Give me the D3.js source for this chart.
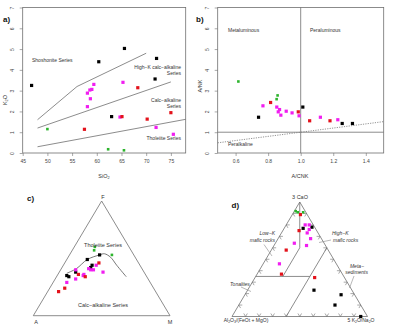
<!DOCTYPE html>
<html>
<head>
<meta charset="utf-8">
<script src="https://cdn.jsdelivr.net/npm/d3@7"></script>
<style>
  body { margin: 0; background: #fff; }
  svg { display: block; font-family: "Liberation Sans", Arial, sans-serif; }
</style>
</head>
<body>
<script>
// ---- data ----
// a) SiO2 vs K2O  [SiO2, K2O]
var harkerBlack   = [[46.8,3.25],[60.4,4.39],[65.6,5.03],[72.1,4.55],[71.8,3.56],[63.0,1.75]];
var harkerMagenta = [[59.4,3.3],[59.0,3.06],[58.6,3.03],[58.1,2.88],[58.7,2.61],[58.1,2.23],[65.3,3.4],[64.7,1.73],[72.0,1.23],[75.5,0.9]];
var harkerRed     = [[68.3,3.14],[65.1,1.75],[70.2,1.63],[75.0,1.94],[57.5,1.14]];
var harkerGreen   = [[50.0,1.15],[62.3,0.18],[65.5,0.13]];
var shoshoniteLine = [[48,1.6],[56,3.2],[70,4.8]];
var highKLine      = [[48,1.2],[75,3.42]];
var tholeiiteLine  = [[48,0.3],[78,1.62]];

// b) A/CNK vs A/NK
var shandBlack   = [[0.741,1.72],[1.013,2.21],[1.255,1.42],[1.318,1.42]];
var shandMagenta = [[0.768,2.27],[0.853,2.21],[0.87,2.09],[0.862,1.98],[0.878,1.82],[0.911,2.01],[0.947,1.93],[0.99,1.79],[1.121,1.72],[1.228,1.6]];
var shandRed     = [[0.815,2.43],[0.985,1.98],[1.055,1.55],[1.18,1.55]];
var shandGreen   = [[0.617,3.44],[0.858,2.77],[0.852,2.59]];

// c) AFM  [A, F, M]
var afmBlack   = [[25,53,22],[36,49,15],[35,44,21],[37,42,21],[50,38,12],[58,35,7],[57,34,9]];
var afmMagenta = [[32,44,24],[39,41,20],[38,40,22],[36,40,24],[49,40,11],[45,36,19],[46,35,19],[53,32,15],[61,29,10],[30,38,32]];
var afmRed     = [[29,46,25],[49,36,15],[45,34,21],[65,24,11],[71,21,8]];
var afmGreen   = [[25,60,15],[27,57,16],[16,53,31]];
var afmCurve   = [[57,37,6],[48,41,11],[36,49,15],[25,53,22],[21,54,25],[18,51,31],[17,44,39],[15,34,51]];

// d) [Al2O3/(FeOt+MgO), 3CaO, 5K2O/Na2O]
var lauBlack   = [[9,77,14],[2,78,20],[28,23,49],[10,19,71],[19,10,71],[5,0,95]];
var lauMagenta = [[6,80,14],[3,80,17],[5,76,19],[8,73,19],[8,68,24],[14,62,24],[22,64,14],[42,46,12]];
var lauRed     = [[5,89,6],[13,75,12],[31,58,11],[45,37,18],[22,34,44]];
var lauGreen   = [[7,92,1],[6,91,3],[2,91,7]];
var lauFields  = [
  [[0,100,0],[20,60,20]],
  [[20,60,20],[45,35,20]],
  [[65,35,0],[25,35,40]],
  [[0,60,40],[60,0,40]]
];

var colours = {black:"#000000", magenta:"#f01ef0", red:"#e3121b", green:"#2db42d"};
var grey = "#6f6f6f";

var svg = d3.select("body").append("svg").attr("width", 393).attr("height", 331);

function sq(g, pts, fx, fy, colour, s) {
  s = s || 3.2;
  g.selectAll(null).data(pts).enter().append("rect")
    .attr("x", d => fx(d) - s/2).attr("y", d => fy(d) - s/2)
    .attr("width", s).attr("height", s).attr("fill", colour);
}

function label(x, y, txt, size, anchor, extra) {
  var t = svg.append("text").attr("x", x).attr("y", y)
    .attr("font-size", size).attr("text-anchor", anchor || "start")
    .attr("fill", "#333").text(txt);
  if (extra) extra(t);
  return t;
}

// text with subscripts, parts: [string, isSub]
function rich(parent, parts, size) {
  var t = parent.append("text").attr("font-size", size).attr("fill", "#333");
  var shifted = false;
  parts.forEach(function(p) {
    var ts = t.append("tspan").text(p[0]);
    if (p[1]) { ts.attr("font-size", size*0.7).attr("dy", size*0.28); shifted = true; }
    else if (shifted) { ts.attr("dy", -size*0.28); shifted = false; }
  });
  return t;
}

function frame(x, y, title) {
  svg.append("text").attr("x", x).attr("y", y).attr("font-size", 8)
    .attr("font-weight", "bold").attr("fill", "#111").text(title);
}

function axes(xs, ys, xticks, xfmt) {
  var g = svg.append("g");
  var xa = g.append("g").attr("transform", `translate(0,${ys.range()[0]})`)
    .call(d3.axisBottom(xs).tickValues(xticks).tickFormat(xfmt).tickSize(3).tickSizeOuter(0));
  var ya = g.append("g").attr("transform", `translate(${xs.range()[0]},0)`)
    .call(d3.axisLeft(ys).ticks(7).tickFormat(d3.format("d")).tickSize(3).tickSizeOuter(0));
  [xa, ya].forEach(a => {
    a.select(".domain").remove();
    a.selectAll("line").attr("stroke", grey).attr("stroke-width", 0.6);
    a.selectAll("text").attr("font-size", 5).attr("fill", "#444").attr("font-family", null);
  });
  xa.selectAll("text").attr("y", 6.5);
  ya.selectAll("text").attr("x", null).attr("dy", null)
    .attr("text-anchor", "middle").attr("transform", "translate(-9,0) rotate(-90)");
  g.append("rect").attr("x", xs.range()[0]).attr("y", ys.range()[1])
    .attr("width", xs.range()[1] - xs.range()[0]).attr("height", ys.range()[0] - ys.range()[1])
    .attr("fill", "none").attr("stroke", grey).attr("stroke-width", 0.8);
}

// ---------- a) ----------
var ax = d3.scaleLinear().domain([45, 78]).range([22.7, 185.7]);
var ay = d3.scaleLinear().domain([0, 7]).range([153, 7.5]);
axes(ax, ay, d3.range(45, 80, 5), d3.format("d"));
var line = d3.line().x(d => ax(d[0])).y(d => ay(d[1]));
[shoshoniteLine, highKLine, tholeiiteLine].forEach(l =>
  svg.append("path").attr("d", line(l)).attr("fill", "none").attr("stroke", grey).attr("stroke-width", 0.8));
var ga = svg.append("g");
sq(ga, harkerBlack, d => ax(d[0]), d => ay(d[1]), colours.black);
sq(ga, harkerMagenta, d => ax(d[0]), d => ay(d[1]), colours.magenta);
sq(ga, harkerRed, d => ax(d[0]), d => ay(d[1]), colours.red);
sq(ga, harkerGreen, d => ax(d[0]), d => ay(d[1]), colours.green, 2.6);
label(32, 62, "Shoshonite Series", 5);
label(181, 69, "High\u2212K calc\u2212alkaline", 5, "end");
label(181, 75, "Series", 5, "end");
label(181, 102, "Calc\u2212alkaline", 5, "end");
label(181, 108, "Series", 5, "end");
label(181, 140, "Tholeiite Series", 5, "end");
frame(3, 21.5, "a)");
rich(svg.append("g").attr("transform", "translate(104,177.5)"), [["SiO"],["2",1]], 5.5).attr("text-anchor", "middle");
rich(svg.append("g").attr("transform", "translate(6.5,100) rotate(-90)"), [["K"],["2",1],["O"]], 5.5).attr("text-anchor", "middle");

// ---------- b) ----------
var bx = d3.scaleLinear().domain([0.49, 1.51]).range([217.7, 383.7]);
var by = d3.scaleLinear().domain([0, 7]).range([153, 7.5]);
axes(bx, by, [0.6, 0.8, 1.0, 1.2, 1.4], d3.format(".1f"));
svg.append("line").attr("x1", bx(1)).attr("x2", bx(1)).attr("y1", by(0)).attr("y2", by(7))
  .attr("stroke", grey).attr("stroke-width", 0.8);
svg.append("line").attr("x1", bx(0.49)).attr("x2", bx(1.51)).attr("y1", by(1)).attr("y2", by(1))
  .attr("stroke", grey).attr("stroke-width", 0.8);
svg.append("line").attr("x1", bx(0.49)).attr("x2", bx(1.51)).attr("y1", by(0.49)).attr("y2", by(1.51))
  .attr("stroke", "#777").attr("stroke-width", 0.8).attr("stroke-dasharray", "1.2,1.2");
var gb = svg.append("g");
sq(gb, shandBlack, d => bx(d[0]), d => by(d[1]), colours.black);
sq(gb, shandMagenta, d => bx(d[0]), d => by(d[1]), colours.magenta);
sq(gb, shandRed, d => bx(d[0]), d => by(d[1]), colours.red);
sq(gb, shandGreen, d => bx(d[0]), d => by(d[1]), colours.green, 2.6);
label(228, 32, "Metaluminous", 5);
label(310, 32, "Peraluminous", 5);
label(228, 146, "Peralkaline", 5);
frame(196, 21.5, "b)");
label(300, 178, "A/CNK", 5.5, "middle");
label(0, 0, "A/NK", 5.5, "middle", t => t.attr("transform", "translate(202,86) rotate(-90)"));

// ---------- c) AFM ----------
var cx = d3.scaleLinear().domain([0, 1]).range([33.3, 170]);
var cy = d3.scaleLinear().domain([0, 1]).range([315.7, 201]);
function afmPos(d) { var s = d[0] + d[1] + d[2], f = d[1]/s, m = d[2]/s; return [cx(m + f/2), cy(f)]; }
svg.append("path").attr("d", d3.line()([afmPos([100,0,0]), afmPos([0,100,0]), afmPos([0,0,100])]) + "Z")
  .attr("fill", "none").attr("stroke", grey).attr("stroke-width", 0.8);
svg.append("path").attr("d", d3.line().curve(d3.curveCatmullRom)(afmCurve.map(afmPos)))
  .attr("fill", "none").attr("stroke", "#555").attr("stroke-width", 0.8);
var gc = svg.append("g");
sq(gc, afmBlack, d => afmPos(d)[0], d => afmPos(d)[1], colours.black);
sq(gc, afmMagenta, d => afmPos(d)[0], d => afmPos(d)[1], colours.magenta);
sq(gc, afmRed, d => afmPos(d)[0], d => afmPos(d)[1], colours.red);
sq(gc, afmGreen, d => afmPos(d)[0], d => afmPos(d)[1], colours.green, 2.6);
label(103, 199, "F", 5.5, "middle");
label(36, 324, "A", 5.5, "middle");
label(170, 324, "M", 5.5, "middle");
label(103, 246.5, "Tholeiite Series", 5.5, "middle");
label(103, 306.5, "Calc\u2212alkaline Series", 5.5, "middle");
frame(27, 201, "c)");

// ---------- d) ----------
var dx = d3.scaleLinear().domain([0, 1]).range([232, 367.5]);
var dy = d3.scaleLinear().domain([0, 1]).range([316.5, 202]);
function lauPos(d) { var s = d[0] + d[1] + d[2], c = d[1]/s, k = d[2]/s; return [dx(k + c/2), dy(c)]; }
var TA = lauPos([100,0,0]), TC = lauPos([0,100,0]), TK = lauPos([0,0,100]);
svg.append("path").attr("d", d3.line()([TA, TC, TK]) + "Z")
  .attr("fill", "none").attr("stroke", grey).attr("stroke-width", 0.8);
lauFields.forEach(f =>
  svg.append("path").attr("d", d3.line()(f.map(lauPos)))
    .attr("fill", "none").attr("stroke", grey).attr("stroke-width", 0.8));
// edge ticks every 10 %
function unit(a, b) { var vx = b[0]-a[0], vy = b[1]-a[1], n = Math.hypot(vx, vy); return [vx/n, vy/n]; }
var tl = 3.5, ticks = [];
d3.range(1, 10).forEach(function(i) {
  var t = i / 10;
  var pb = lauPos([100 - i*10, 0, i*10]);   // bottom
  ticks.push([pb, unit(TA, TC)], [pb, unit(TK, TC)]);
  var pl = lauPos([100 - i*10, i*10, 0]);   // left
  ticks.push([pl, [1, 0]], [pl, unit(TC, TK)]);
  var pr = lauPos([0, i*10, 100 - i*10]);   // right
  ticks.push([pr, [-1, 0]], [pr, unit(TC, TA)]);
});
svg.append("g").selectAll("line").data(ticks).enter().append("line")
  .attr("x1", d => d[0][0]).attr("y1", d => d[0][1])
  .attr("x2", d => d[0][0] + d[1][0]*tl).attr("y2", d => d[0][1] + d[1][1]*tl)
  .attr("stroke", grey).attr("stroke-width", 0.6);
var gd = svg.append("g");
sq(gd, lauBlack, d => lauPos(d)[0], d => lauPos(d)[1], colours.black);
sq(gd, lauMagenta, d => lauPos(d)[0], d => lauPos(d)[1], colours.magenta);
sq(gd, lauRed, d => lauPos(d)[0], d => lauPos(d)[1], colours.red);
sq(gd, lauGreen, d => lauPos(d)[0], d => lauPos(d)[1], colours.green, 2.6);
label(300, 199, "3 CaO", 5.5, "middle");
rich(svg.append("g").attr("transform", "translate(246,322)"),
  [["Al"],["2",1],["O"],["3",1],["/(FeOt + MgO)"]], 5).attr("text-anchor", "middle");
rich(svg.append("g").attr("transform", "translate(361,322)"),
  [["5 K"],["2",1],["O/Na"],["2",1],["O"]], 5).attr("text-anchor", "middle");
function italic(t) { t.attr("font-style", "italic"); }
label(275, 235, "Low\u2212K", 5, "end", italic);
label(275, 241.5, "mafic rocks", 5, "end", italic);
label(332, 235, "High\u2212K", 5, "start", italic);
label(333, 241.5, "mafic rocks", 5, "start", italic);
label(364, 268, "Meta\u2212", 5, "end", italic);
label(368, 274, "sediments", 5, "end", italic);
label(230, 285.5, "Tonalites", 5, "start", italic);
[[[264,244.5],[272,256]], [[331,240],[319,242.5]], [[354,276],[349.5,288]], [[241,287],[251,291.5]]]
  .forEach(l => svg.append("path").attr("d", d3.line()(l)).attr("stroke", "#888").attr("stroke-width", 0.6));
frame(231.5, 207.5, "d)");
</script>
</body>
</html>
